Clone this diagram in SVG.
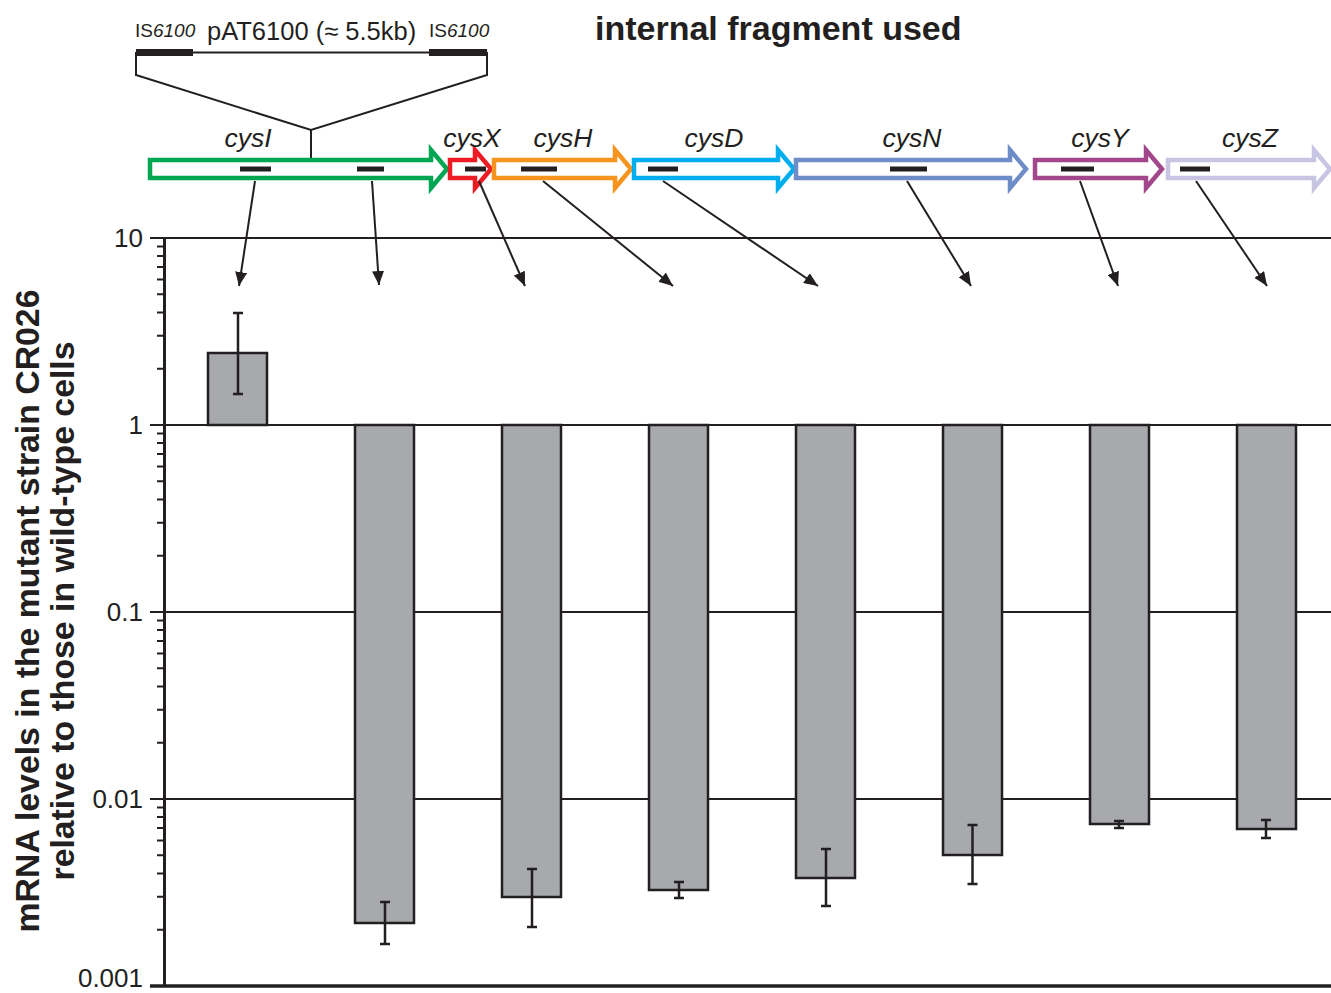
<svg xmlns="http://www.w3.org/2000/svg" width="1331" height="993" viewBox="0 0 1331 993">
<defs>
<style>
.t{font-family:"Liberation Sans",Arial,sans-serif;fill:#231f20}
.b{font-weight:bold}
.it{font-style:italic}
.grid{stroke:#231f20;stroke-width:2;fill:none}
.tick{stroke:#231f20;stroke-width:2}
.bar{fill:#a7a9ac;stroke:#231f20;stroke-width:2.5}
.err{stroke:#231f20;stroke-width:2.5;fill:none}
.gene{fill:#fff;stroke-width:4.5;stroke-linejoin:miter;stroke-miterlimit:10}
.frag{stroke:#231f20;stroke-width:5}
.conn{stroke:#231f20;stroke-width:2;fill:none;marker-end:url(#ah)}
.ins{stroke:#231f20;stroke-width:2;fill:none}
</style>
<marker id="ah" markerUnits="userSpaceOnUse" markerWidth="15" markerHeight="12" refX="14" refY="6" orient="auto">
<path d="M0,0 L14,6 L0,12 z" fill="#231f20"/>
</marker>
</defs>
<rect width="1331" height="993" fill="#fff"/>

<!-- title -->
<text class="t b" x="595" y="40" font-size="34">internal fragment used</text>

<!-- insertion -->
<g id="insertion">
<rect x="136" y="49" width="57" height="7" fill="#231f20"/>
<rect x="429" y="49" width="58" height="7" fill="#231f20"/>
<line class="ins" x1="193" y1="52.5" x2="429" y2="52.5" stroke-width="1.5"/>
<polyline class="ins" points="136,52 136,75 311,130 487,75 487,52"/>
<line class="ins" x1="311" y1="130" x2="311" y2="158"/>
<text class="t" x="135" y="37" font-size="19">IS<tspan class="it">6100</tspan></text>
<text class="t" x="207" y="40" font-size="25.5">pAT6100 (≈ 5.5kb)</text>
<text class="t" x="429" y="37" font-size="19">IS<tspan class="it">6100</tspan></text>
</g>

<!-- gene arrows -->
<g id="gene-cysI">
<path class="gene" stroke="#00a651" d="M150,160 H431 V150 L447,169 L431,188 V178 H150 Z"/>
<line class="frag" x1="240" y1="169" x2="271" y2="169"/>
<line class="frag" x1="357" y1="169" x2="384" y2="169"/>
<text class="t it" x="248" y="147" font-size="26.5" text-anchor="middle">cysI</text>
</g>
<g id="gene-cysX">
<path class="gene" stroke="#ed1c24" d="M450,160 H475 V150 L491,169 L475,188 V178 H450 Z"/>
<line class="frag" x1="465" y1="169" x2="486" y2="169"/>
<text class="t it" x="472" y="147" font-size="26.5" text-anchor="middle">cysX</text>
</g>
<g id="gene-cysH">
<path class="gene" stroke="#f7941d" d="M494,160 H615 V150 L631,169 L615,188 V178 H494 Z"/>
<line class="frag" x1="521" y1="169" x2="557" y2="169"/>
<text class="t it" x="563" y="147" font-size="26.5" text-anchor="middle">cysH</text>
</g>
<g id="gene-cysD">
<path class="gene" stroke="#00aeef" d="M634,160 H778 V150 L794,169 L778,188 V178 H634 Z"/>
<line class="frag" x1="648" y1="169" x2="678" y2="169"/>
<text class="t it" x="714" y="147" font-size="26.5" text-anchor="middle">cysD</text>
</g>
<g id="gene-cysN">
<path class="gene" stroke="#6d8cc8" d="M796,160 H1010 V150 L1026,169 L1010,188 V178 H796 Z"/>
<line class="frag" x1="890" y1="169" x2="927" y2="169"/>
<text class="t it" x="912" y="147" font-size="26.5" text-anchor="middle">cysN</text>
</g>
<g id="gene-cysY">
<path class="gene" stroke="#a3478c" d="M1035,160 H1146 V150 L1162,169 L1146,188 V178 H1035 Z"/>
<line class="frag" x1="1061" y1="169" x2="1094" y2="169"/>
<text class="t it" x="1100" y="147" font-size="26.5" text-anchor="middle">cysY</text>
</g>
<g id="gene-cysZ">
<path class="gene" stroke="#c8c5e2" d="M1168,160 H1314 V150 L1330,169 L1314,188 V178 H1168 Z"/>
<line class="frag" x1="1180" y1="169" x2="1210" y2="169"/>
<text class="t it" x="1250" y="147" font-size="26.5" text-anchor="middle">cysZ</text>
</g>

<!-- axes & grid -->
<g id="axes">
<line class="grid" x1="150" y1="238" x2="1331" y2="238"/>
<line class="grid" x1="150" y1="425" x2="1331" y2="425"/>
<line class="grid" x1="150" y1="612" x2="1331" y2="612"/>
<line class="grid" x1="150" y1="799" x2="1331" y2="799"/>
<line x1="150" y1="986" x2="1331" y2="986" stroke="#231f20" stroke-width="3.5"/>
<line x1="164.5" y1="237" x2="164.5" y2="987" stroke="#231f20" stroke-width="3"/>
<path class="tick" d="M157,368.7H164M157,335.8H164M157,312.4H164M157,294.3H164M157,279.5H164M157,267H164M157,256.1H164M157,246.6H164
M157,555.7H164M157,522.8H164M157,499.4H164M157,481.3H164M157,466.5H164M157,454H164M157,443.1H164M157,433.6H164
M157,742.7H164M157,709.8H164M157,686.4H164M157,668.3H164M157,653.5H164M157,641H164M157,630.1H164M157,620.6H164
M157,929.7H164M157,896.8H164M157,873.4H164M157,855.3H164M157,840.5H164M157,828H164M157,817.1H164M157,807.6H164"/>
<text class="t" x="143" y="247" font-size="26" text-anchor="end">10</text>
<text class="t" x="143" y="434" font-size="26" text-anchor="end">1</text>
<text class="t" x="143" y="621" font-size="26" text-anchor="end">0.1</text>
<text class="t" x="143" y="808" font-size="26" text-anchor="end">0.01</text>
<text class="t" x="143" y="987" font-size="26" text-anchor="end">0.001</text>
<text class="t b" font-size="33.8" text-anchor="middle" transform="translate(39,611) rotate(-90)">mRNA levels in the mutant strain CR026</text>
<text class="t b" font-size="33.8" text-anchor="middle" transform="translate(74,611) rotate(-90)">relative to those in wild-type cells</text>
</g>

<!-- bars -->
<g id="bars">
<rect class="bar" x="208" y="353" width="59" height="72"/>
<rect class="bar" x="355" y="425" width="59" height="498"/>
<rect class="bar" x="502" y="425" width="59" height="472"/>
<rect class="bar" x="649" y="425" width="59" height="465"/>
<rect class="bar" x="796" y="425" width="59" height="453"/>
<rect class="bar" x="943" y="425" width="59" height="430"/>
<rect class="bar" x="1090" y="425" width="59" height="399"/>
<rect class="bar" x="1237" y="425" width="59" height="404"/>
</g>
<g id="errorbars">
<path class="err" d="M238,313V394M233,313H243M233,394H243"/>
<path class="err" d="M385,902V944M380,902H390M380,944H390"/>
<path class="err" d="M532,869V927M527,869H537M527,927H537"/>
<path class="err" d="M679,882V898M674,882H684M674,898H684"/>
<path class="err" d="M826,849V906M821,849H831M821,906H831"/>
<path class="err" d="M972.5,825V884M967.5,825H977.5M967.5,884H977.5"/>
<path class="err" d="M1119,821V828M1114,821H1124M1114,828H1124"/>
<path class="err" d="M1266,820V838M1261,820H1271M1261,838H1271"/>
</g>

<!-- connectors -->
<g id="connectors">
<line class="conn" x1="255" y1="181" x2="239" y2="286"/>
<line class="conn" x1="372" y1="181" x2="379" y2="285"/>
<line class="conn" x1="479" y1="181" x2="525" y2="286"/>
<line class="conn" x1="543" y1="181" x2="673" y2="286"/>
<line class="conn" x1="663" y1="181" x2="818" y2="286"/>
<line class="conn" x1="907" y1="181" x2="971" y2="286"/>
<line class="conn" x1="1080" y1="181" x2="1118" y2="286"/>
<line class="conn" x1="1196" y1="181" x2="1267" y2="286"/>
</g>
</svg>
